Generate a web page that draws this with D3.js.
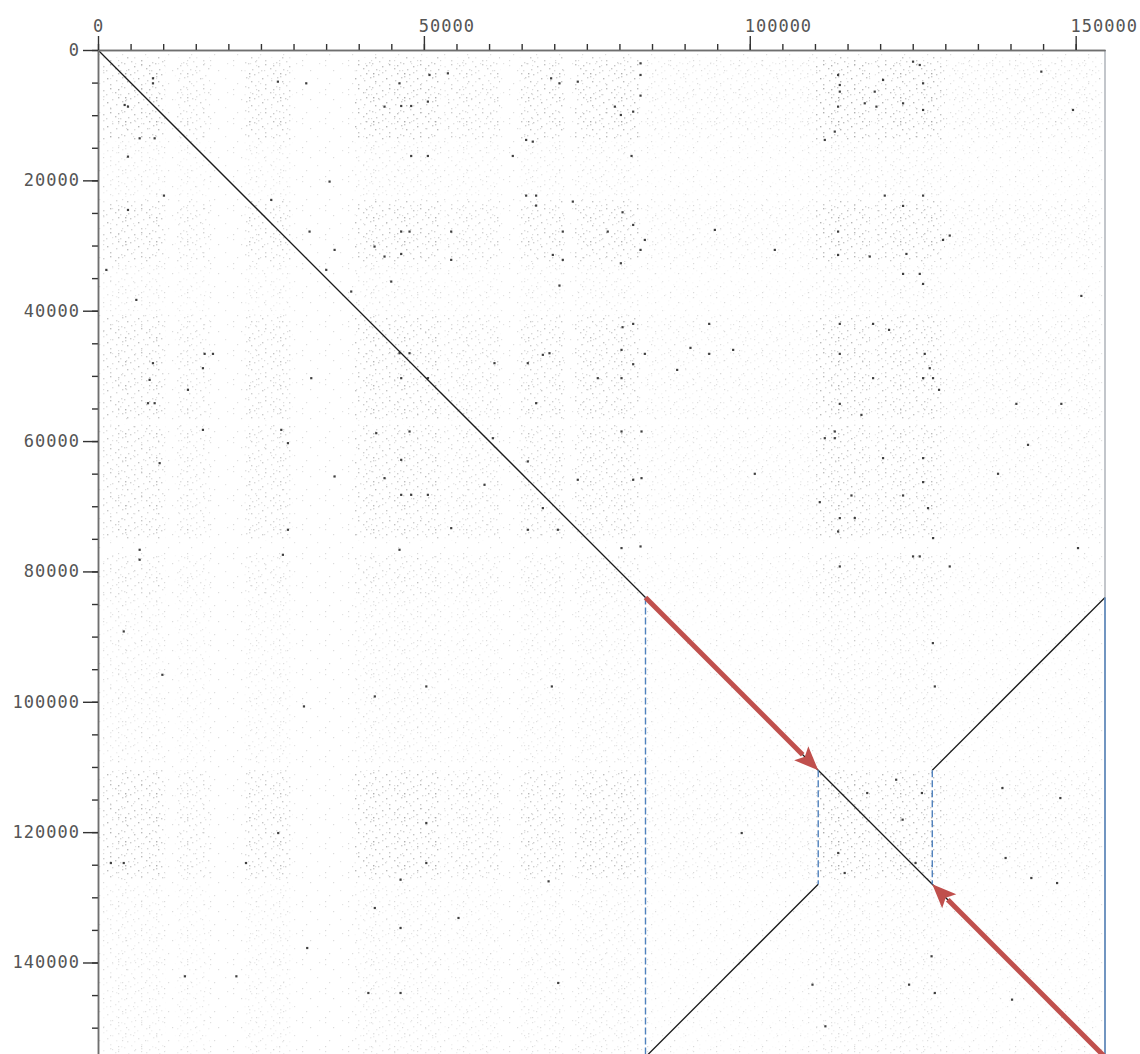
<!DOCTYPE html>
<html>
<head>
<meta charset="utf-8">
<script src="https://cdn.jsdelivr.net/npm/d3@7"></script>
<style>
  html, body { margin: 0; padding: 0; background: #fff; }
  svg { display: block; }
  .tick text { font-family: "DejaVu Sans Mono", monospace; font-size: 17px; letter-spacing: 1px; fill: #555; }
</style>
</head>
<body>
<svg id="chart" width="1140" height="1054"></svg>
<script>
// Plastid genome self dot plot: region boundaries (bp)
const regionBounds = [0, 84000, 110500, 128000, 154500]; // LSC | IRb | SSC | IRa
const genomeLength = 154500;

// Tick values
const xMajorTicks = [0, 50000, 100000, 150000];
const yMajorTicks = [0, 20000, 40000, 60000, 80000, 100000, 120000, 140000];
const minorStep = 5000;

// Direct self-match (forward) segments and inverted-repeat segments [x0, y0, x1, y1]
const forwardSegments = [
  [0, 0, 84000, 84000],
  [84000, 84000, 110500, 110500],
  [110500, 110500, 128000, 128000],
  [128000, 128000, 154500, 154500]
];
const invertedSegments = [
  [84000, 154500, 110500, 128000],
  [128000, 110500, 154500, 84000]
];

// Repeat-rich stretches along each sequence axis [start, end, density]
const columnBands = [
  [800, 10300, 0.9], [11800, 17200, 0.6], [22500, 29800, 0.75], [39400, 52500, 0.9],
  [53200, 61700, 0.65], [64700, 71600, 0.8], [73200, 83100, 0.85], [84000, 110000, 0.3],
  [110000, 118400, 1.0], [119200, 129900, 0.9], [130500, 154000, 0.35]
];
const rowBands = [
  [1100, 13800, 1.0], [14000, 22500, 0.35], [23000, 32500, 0.9], [33000, 40000, 0.35],
  [40600, 56800, 0.85], [57500, 75200, 0.8], [77500, 84000, 0.6], [84000, 109500, 0.35],
  [110500, 127300, 0.95], [128000, 154500, 0.35]
];

// Strong individual word matches [x bp, y bp]
const strongHits = [
  [8435,4345],[8435,5112],[4090,8435],[4600,8690],[27600,4860],[31950,5110],[46260,5110],[50860,3830],
  [53680,3580],[43960,8690],[46520,8590],[48050,8590],[50610,7920],[69520,4345],[70800,5110],[73610,4860],
  [4600,16360],[8690,13550],[6390,13550],[65690,13800],[66710,14060],[48050,16260],[50610,16260],[63640,16260],
  [35530,20190],[65690,22340],[67220,22340],[67220,23870],[72850,23260],[4600,24540],[10120,22340],[26580,23000],
  [32460,27860],[36300,30670],[35020,33740],[46520,27860],[47800,27860],[54190,27860],[71310,27860],[78210,27860],
  [42430,30160],[43960,31690],[46520,31290],[54190,32200],[71310,32200],[69780,31440],[1280,33740],[44990,35530],
  [70800,36140],[5880,38340],[46260,46520],[47800,46520],[46520,50350],[50610,50350],[32720,50350],[13800,52140],
  [16100,48820],[7920,50610],[16360,46620],[17640,46620],[8430,48050],[60830,48050],[65940,48050],[68250,46770],
  [69270,46520],[76680,50350],[16100,58280],[28120,58280],[29140,60320],[42690,58790],[47800,58530],[60580,59560],
  [65940,63130],[46520,62880],[9460,63390],[43960,65690],[46520,68250],[48050,68250],[50610,68250],[59300,66710],
  [73610,65940],[68250,70290],[65940,73610],[70550,73610],[54190,73360],[28370,77450],[29140,73610],[6390,76680],
  [6390,78210],[46260,76680],[38850,37060],[8690,54190],[7670,54190],[67220,54190],[36300,65430],
  [83240,2045],[83240,3830],[83240,7000],[79300,8690],[80220,9970],[82110,9460],[81860,16260],[80480,24900],
  [82110,26840],[83900,29140],[83240,30670],[80220,32720],[103840,30670],[94640,27600],[113550,3830],[113810,5370],
  [113810,6390],[113550,8690],[120450,4600],[125050,1790],[126080,2300],[126590,5110],[126590,9200],[123520,8180],
  [119430,8690],[117640,8180],[119170,6390],[111510,13800],[113040,12520],[120710,22340],[126590,22340],[123520,23920],
  [113550,27860],[113550,31440],[118410,31690],[124030,31290],[123520,34350],[126080,34350],[126590,35890],[129650,29140],
  [130680,28470],[144730,3320],[149590,9200],[150870,37730],[93770,42020],[80480,42530],[82110,42020],[113810,42020],
  [118920,42020],[121370,42940],[80320,46010],[83900,46620],[93770,46620],[97450,46010],[90900,45700],[88860,49080],
  [80320,50350],[82110,48210],[113810,46620],[126840,46620],[127610,48820],[128120,50350],[129040,52140],[118920,50350],
  [126590,50350],[140900,54290],[147800,54290],[113810,54290],[117130,55980],[113040,58530],[113040,59560],[111510,59560],
  [142690,60580],[100770,65020],[138090,65020],[120450,62620],[126590,62620],[83390,65690],[82110,65940],[83390,58530],
  [80320,58530],[115600,68350],[110740,69370],[123520,68350],[127350,70290],[113810,71820],[116110,71820],[128120,74890],
  [113550,73870],[126590,66300],[125050,77700],[126080,77700],[83240,76170],[80320,76420],[150360,76420],[113810,79240],
  [130680,79240],
  [50370,97650],[42470,99180],[31600,100710],[69630,97650],[128390,97650],[128090,91000],[55310,133170],[42470,131640],
  [46420,134710],[13330,142120],[21230,142120],[32100,137780],[41480,144680],[70610,143140],[109620,143400],[124440,143400],
  [140240,145700],[127890,139050],[143200,127040],[147150,127810],[147650,114770],[138760,113240],[46420,144680],[22710,124740],
  [50370,124740],[46420,127300],[69130,127550],[114560,126270],[122460,111960],[126410,114000],[118020,114000],[123450,118090],
  [113570,123200],[125430,124740],[3950,124740],[1975,124740],[27650,120140],[50370,118600],[98760,120140],[139250,123970],
  [128390,144680],[111600,149790],[9880,95860],[3950,89210]
];

// Annotation arrows along the two inverted-repeat copies [fromX, fromY, toX, toY]
const arrows = [
  [regionBounds[1], regionBounds[1], regionBounds[2], regionBounds[2]],
  [regionBounds[4], regionBounds[4], regionBounds[3], regionBounds[3]]
];

const svg = d3.select("#chart");
const frame = { left: 98, top: 50, right: 1105, bottom: 1057 };

const x = d3.scaleLinear().domain([0, genomeLength]).range([frame.left, frame.right]);
const y = d3.scaleLinear().domain([0, genomeLength]).range([frame.top, frame.bottom]);

// Stipple textures for the background of weak word matches
const defs = svg.append("defs");
function stipple(id, w, h, dots, size) {
  const p = defs.append("pattern").attr("id", id)
    .attr("patternUnits", "userSpaceOnUse").attr("width", w).attr("height", h);
  dots.forEach(d => p.append("rect").attr("x", d[0]).attr("y", d[1])
    .attr("width", size).attr("height", size).attr("fill", d[2]));
}
stipple("stipple", 31, 24, [
  [1,1,"#8a8a8a"],[1,4,"#b5b5b5"],[6,2,"#b0b0b0"],[10,0,"#c4c4c4"],[3,9,"#a0a0a0"],[14,6,"#9a9a9a"],
  [19,3,"#c8c8c8"],[0,15,"#bdbdbd"],[7,13,"#c0c0c0"],[10,18,"#a8a8a8"],[17,12,"#b2b2b2"],[17,16,"#9c9c9c"],
  [23,8,"#bfbfbf"],[25,1,"#a4a4a4"],[28,14,"#c2c2c2"],[22,20,"#acacac"],[27,22,"#cacaca"],[4,21,"#b8b8b8"],
  [13,22,"#c6c6c6"],[29,5,"#b4b4b4"],[10,9,"#d0d0d0"],[25,17,"#a9a9a9"]
], 1.4);
stipple("stipple2", 23, 29, [
  [3,2,"#c2c2c2"],[3,7,"#cdcdcd"],[11,12,"#c4c4c4"],[18,20,"#d2d2d2"],[7,25,"#c8c8c8"],[20,5,"#d0d0d0"]
], 1.2);

const plot = svg.append("g");

// faint base texture over the whole matrix
plot.append("rect")
  .attr("x", x(0)).attr("y", y(0))
  .attr("width", x(genomeLength) - x(0)).attr("height", y(genomeLength) - y(0))
  .attr("fill", "url(#stipple2)").attr("opacity", 0.6);

// band intersections
const cells = [];
columnBands.forEach(c => rowBands.forEach(r => cells.push({c, r})));
plot.append("g").selectAll("rect").data(cells).join("rect")
  .attr("x", d => x(d.c[0])).attr("y", d => y(d.r[0]))
  .attr("width", d => x(d.c[1]) - x(d.c[0]))
  .attr("height", d => y(d.r[1]) - y(d.r[0]))
  .attr("fill", "url(#stipple)")
  .attr("opacity", d => 0.8 * d.c[2] * d.r[2]);

// strong hits
plot.append("g").selectAll("rect").data(strongHits).join("rect")
  .attr("x", d => x(d[0]) - 1.1).attr("y", d => y(d[1]) - 1.1)
  .attr("width", 2.2).attr("height", 2.2)
  .attr("fill", "#1e1e1e").attr("opacity", 0.85);

// matching diagonals
const segs = forwardSegments.concat(invertedSegments);
plot.append("g").selectAll("line").data(segs).join("line")
  .attr("x1", d => x(d[0])).attr("y1", d => y(d[1]))
  .attr("x2", d => x(d[2])).attr("y2", d => y(d[3]))
  .attr("stroke", "#1a1a1a").attr("stroke-width", 1.3);

// right border of the matrix
plot.append("line")
  .attr("x1", x(genomeLength)).attr("x2", x(genomeLength))
  .attr("y1", y(0)).attr("y2", y(genomeLength))
  .attr("stroke", "#9aa0a8").attr("stroke-width", 1.2);

// region guides
const guides = [
  {xv: regionBounds[1], y0: regionBounds[1], y1: genomeLength, dash: "7,3"},
  {xv: regionBounds[2], y0: regionBounds[2], y1: regionBounds[3], dash: "7,3"},
  {xv: regionBounds[3], y0: regionBounds[2], y1: regionBounds[3], dash: "7,3"},
  {xv: regionBounds[4], y0: regionBounds[1], y1: genomeLength, dash: null}
];
plot.append("g").selectAll("line").data(guides).join("line")
  .attr("x1", d => x(d.xv)).attr("x2", d => x(d.xv))
  .attr("y1", d => y(d.y0)).attr("y2", d => y(d.y1))
  .attr("stroke", "#4f81bd").attr("stroke-width", 1.4)
  .attr("stroke-dasharray", d => d.dash);

// arrows
const arrowG = svg.append("g");
arrows.forEach(a => {
  const x0 = x(a[0]), y0 = y(a[1]), x1 = x(a[2]), y1 = y(a[3]);
  const dx = x1 - x0, dy = y1 - y0, len = Math.hypot(dx, dy);
  const ux = dx / len, uy = dy / len, nx = -uy, ny = ux;
  const headLen = 24, headW = 10;
  const bx = x1 - ux * headLen, by = y1 - uy * headLen;
  arrowG.append("line")
    .attr("x1", x0).attr("y1", y0).attr("x2", bx + ux * 2).attr("y2", by + uy * 2)
    .attr("stroke", "#c0504d").attr("stroke-width", 5);
  arrowG.append("path")
    .attr("d", `M${x1},${y1} L${bx + nx * headW},${by + ny * headW} L${bx + ux * 5},${by + uy * 5} L${bx - nx * headW},${by - ny * headW} Z`)
    .attr("fill", "#c0504d");
});

// axes
function range(step, max) { const r = []; for (let v = 0; v <= max; v += step) r.push(v); return r; }
const axisColor = "#6f6f6f";
function style(g) {
  g.select(".domain").attr("stroke", axisColor).attr("stroke-width", 1.5);
  g.selectAll(".tick line").attr("stroke", "#333").attr("stroke-width", 1.4);
}
svg.append("g").attr("transform", `translate(0,${frame.top})`)
  .call(d3.axisTop(x).tickValues(range(minorStep, genomeLength)).tickSize(6).tickSizeOuter(0).tickFormat(""))
  .call(style);
const xMaj = svg.append("g").attr("transform", `translate(0,${frame.top})`)
  .call(d3.axisTop(x).tickValues(xMajorTicks).tickSize(14).tickSizeOuter(0).tickPadding(4).tickFormat(d3.format("d")))
  .call(style);
xMaj.selectAll(".tick text").attr("text-anchor", "start").attr("dx", -5.6);

svg.append("g").attr("transform", `translate(${frame.left},0)`)
  .call(d3.axisLeft(y).tickValues(range(minorStep, genomeLength)).tickSize(6).tickSizeOuter(0).tickFormat(""))
  .call(style);
svg.append("g").attr("transform", `translate(${frame.left},0)`)
  .call(d3.axisLeft(y).tickValues(yMajorTicks).tickSize(15).tickPadding(3).tickSizeOuter(0).tickFormat(d3.format("d")))
  .call(style);
</script>
</body>
</html>
